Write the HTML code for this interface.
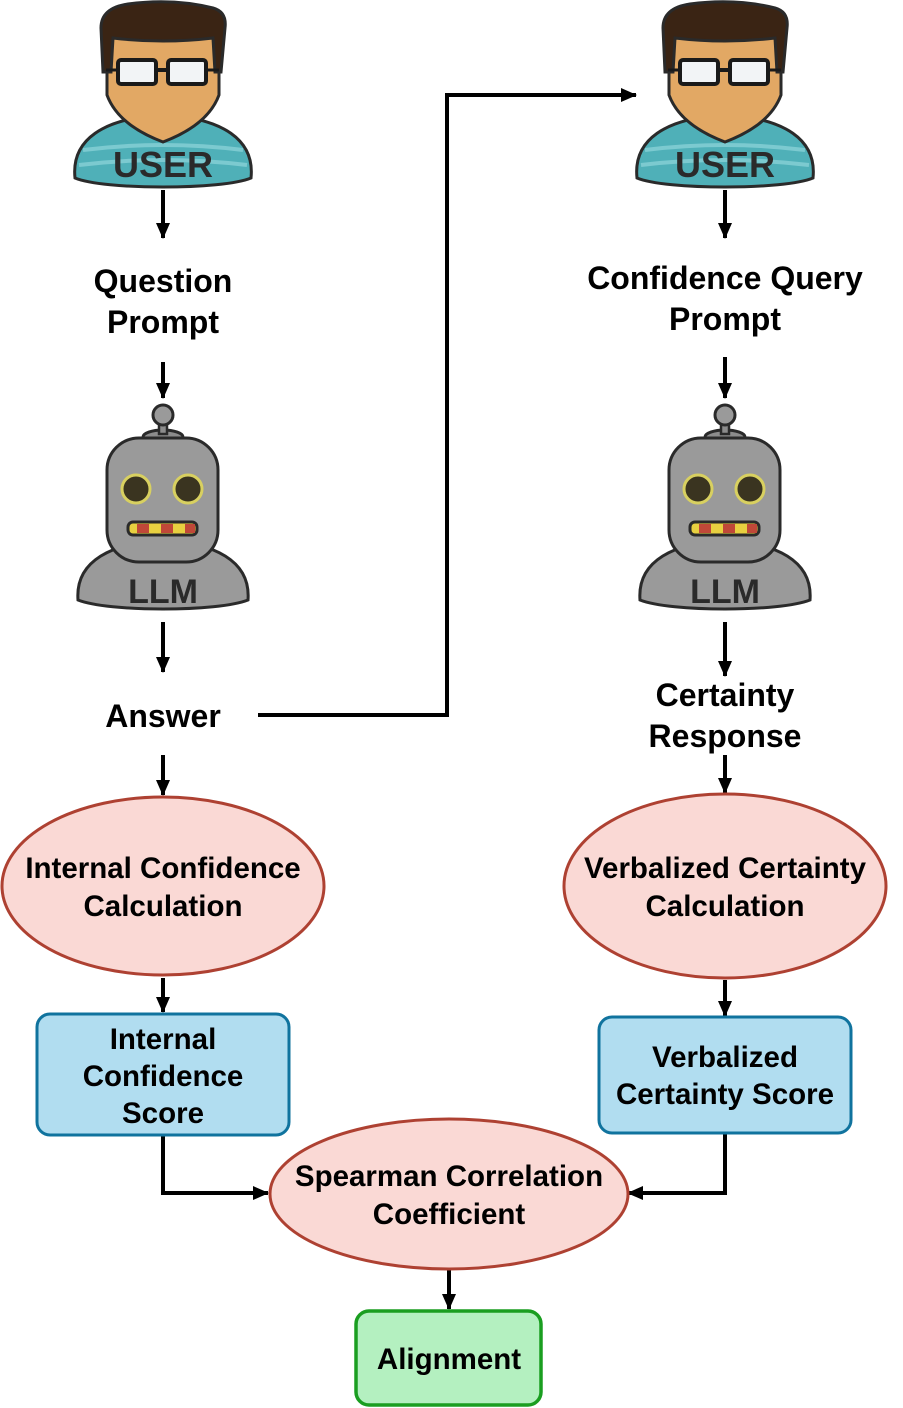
<!DOCTYPE html>
<html><head><meta charset="utf-8"><style>
html,body{margin:0;padding:0;background:#fff;}
svg{display:block;}
text{font-family:"Liberation Sans",sans-serif;font-weight:bold;}
</style></head><body>
<svg width="903" height="1408" viewBox="0 0 903 1408" xmlns="http://www.w3.org/2000/svg">
<defs>
<marker id="ar" markerWidth="16" markerHeight="16" refX="15" refY="8" orient="auto" markerUnits="userSpaceOnUse" viewBox="0 0 16 16">
<path d="M0,1 L16,8 L0,15 Z" fill="#000"/>
</marker>
<g id="user">
<path d="M-88,178 C-92,140 -60,118 0,115 C60,118 92,140 88,178 C60,190 -60,190 -88,178 Z" fill="#4fb0b8" stroke="#2a2a2a" stroke-width="3"/>
<path d="M-80,150 Q0,140 80,150 M-84,165 Q0,155 84,165" stroke="#7ccad0" stroke-width="4" fill="none"/>
<path d="M-56,30 L-56,95 Q-45,125 0,142 Q45,125 56,95 L56,30 Z" fill="#e2a864" stroke="#2a2a2a" stroke-width="3"/>
<path d="M-60,72 L-62,28 Q-62,8 -35,4 Q10,-2 50,8 Q64,12 62,28 L58,72 L52,72 L50,38 Q0,44 -50,38 L-52,72 Z" fill="#3a2414" stroke="#2a2a2a" stroke-width="3"/>
<rect x="-45" y="60" width="38" height="24" rx="3" fill="#f2f4f6" stroke="#1a1a1a" stroke-width="4"/>
<rect x="5" y="60" width="38" height="24" rx="3" fill="#f2f4f6" stroke="#1a1a1a" stroke-width="4"/>
<line x1="-7" y1="70" x2="5" y2="70" stroke="#1a1a1a" stroke-width="4"/>
<line x1="-57" y1="70" x2="-45" y2="70" stroke="#1a1a1a" stroke-width="3"/>
<line x1="43" y1="70" x2="56" y2="70" stroke="#1a1a1a" stroke-width="3"/>
</g>
<g id="bot">
<path d="M-85,205 C-88,165 -50,148 0,145 C50,148 88,165 85,205 C55,217 -55,217 -85,205 Z" fill="#9a9a9a" stroke="#2a2a2a" stroke-width="3"/>
<ellipse cx="0" cy="42" rx="20" ry="7" fill="#8c8c8c" stroke="#2a2a2a" stroke-width="3"/>
<rect x="-4" y="25" width="8" height="14" fill="#8c8c8c" stroke="#2a2a2a" stroke-width="2.5"/>
<circle cx="0" cy="20" r="10" fill="#9a9a9a" stroke="#2a2a2a" stroke-width="3"/>
<rect x="-56" y="43" width="111" height="124" rx="32" fill="#9a9a9a" stroke="#2a2a2a" stroke-width="3"/>
<circle cx="-27" cy="94" r="14" fill="#3a3420" stroke="#d8d060" stroke-width="3"/>
<circle cx="25" cy="94" r="14" fill="#3a3420" stroke="#d8d060" stroke-width="3"/>
<rect x="-35" y="127" width="69" height="13" rx="5" fill="#e8d040" stroke="#2a2a2a" stroke-width="3"/>
<rect x="-26" y="129" width="12" height="9" fill="#c04838"/><rect x="-2" y="129" width="12" height="9" fill="#c04838"/><rect x="22" y="129" width="10" height="9" fill="#c04838"/>
</g>
</defs>

<use href="#user" x="163" y="0"/>
<text x="163" y="177" font-size="36" fill="#2a2a2a" text-anchor="middle">USER</text>
<use href="#user" x="725" y="0"/>
<text x="725" y="177" font-size="36" fill="#2a2a2a" text-anchor="middle">USER</text>

<use href="#bot" x="163" y="395"/>
<text x="163" y="603" font-size="34" fill="#2a2a2a" text-anchor="middle">LLM</text>
<use href="#bot" x="725" y="395"/>
<text x="725" y="603" font-size="34" fill="#2a2a2a" text-anchor="middle">LLM</text>

<g stroke="#000" stroke-width="4" fill="none" marker-end="url(#ar)">
<line x1="163" y1="190" x2="163" y2="238"/>
<line x1="163" y1="362" x2="163" y2="398"/>
<line x1="163" y1="622" x2="163" y2="672"/>
<line x1="163" y1="755" x2="163" y2="795"/>
<line x1="163" y1="978" x2="163" y2="1012"/>
<line x1="725" y1="190" x2="725" y2="238"/>
<line x1="725" y1="357" x2="725" y2="398"/>
<line x1="725" y1="622" x2="725" y2="676"/>
<line x1="725" y1="755" x2="725" y2="793"/>
<line x1="725" y1="980" x2="725" y2="1016"/>
<polyline points="258,715 447,715 447,95 636,95"/>
<polyline points="163,1135 163,1193 268,1193"/>
<polyline points="725,1133 725,1193 628,1193"/>
<line x1="449" y1="1270" x2="449" y2="1309"/>
</g>

<g font-size="32" text-anchor="middle" fill="#000">
<text x="163" y="292">Question</text>
<text x="163" y="333">Prompt</text>
<text x="725" y="289">Confidence Query</text>
<text x="725" y="330">Prompt</text>
<text x="163" y="727">Answer</text>
<text x="725" y="706">Certainty</text>
<text x="725" y="747">Response</text>
</g>

<ellipse cx="163" cy="886" rx="161" ry="89" fill="#fad9d5" stroke="#ae4132" stroke-width="3"/>
<ellipse cx="725" cy="886" rx="161" ry="92" fill="#fad9d5" stroke="#ae4132" stroke-width="3"/>
<ellipse cx="449" cy="1194" rx="179" ry="75" fill="#fad9d5" stroke="#ae4132" stroke-width="3"/>
<rect x="37" y="1014" width="252" height="121" rx="13" fill="#b1ddf0" stroke="#10739e" stroke-width="3"/>
<rect x="599" y="1017" width="252" height="116" rx="13" fill="#b1ddf0" stroke="#10739e" stroke-width="3"/>
<rect x="356" y="1311" width="185" height="94" rx="13" fill="#b4f0c0" stroke="#1a9e20" stroke-width="3.5"/>

<g font-size="29.5" text-anchor="middle" fill="#000">
<text x="163" y="878">Internal Confidence</text>
<text x="163" y="916">Calculation</text>
<text x="725" y="878">Verbalized Certainty</text>
<text x="725" y="916">Calculation</text>
<text x="163" y="1049">Internal</text>
<text x="163" y="1086">Confidence</text>
<text x="163" y="1123">Score</text>
<text x="725" y="1067">Verbalized</text>
<text x="725" y="1104">Certainty Score</text>
<text x="449" y="1186">Spearman Correlation</text>
<text x="449" y="1224">Coefficient</text>
<text x="449" y="1369">Alignment</text>
</g>
</svg>
</body></html>
